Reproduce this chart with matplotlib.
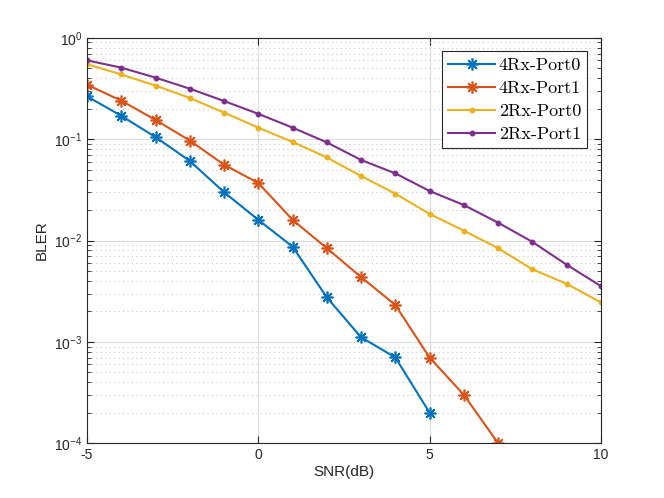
import matplotlib
matplotlib.use("Agg")
import matplotlib.pyplot as plt
from matplotlib.ticker import LogLocator, NullFormatter

snr = [-5, -4, -3, -2, -1, 0, 1, 2, 3, 4, 5, 6, 7, 8, 9, 10]

bler_4rx_p0 = [0.265, 0.170, 0.105, 0.061, 0.030, 0.0160, 0.0087, 0.00275, 0.00111, 0.000702, 0.0002]
bler_4rx_p1 = [0.345, 0.240, 0.155, 0.097, 0.056, 0.037, 0.016, 0.0084, 0.00436, 0.00231, 0.0007, 0.0003, 0.0001]
bler_2rx_p0 = [0.55, 0.435, 0.338, 0.255, 0.183, 0.130, 0.094, 0.066, 0.0433, 0.029, 0.0183, 0.0125, 0.0084, 0.0052, 0.00374, 0.00245]
bler_2rx_p1 = [0.60, 0.508, 0.405, 0.315, 0.238, 0.178, 0.130, 0.093, 0.0624, 0.046, 0.0308, 0.0224, 0.0150, 0.0097, 0.00577, 0.00355]

labels = ["4Rx-Port0", "4Rx-Port1", "2Rx-Port0", "2Rx-Port1"]
colors = ["#0072BD", "#D95319", "#EDB120", "#7E2F8E"]

plt.rcParams["font.family"] = ["Liberation Sans", "DejaVu Sans"]
plt.rcParams["axes.unicode_minus"] = False
plt.rcParams["mathtext.fontset"] = "custom"
plt.rcParams["mathtext.rm"] = "Liberation Sans"
plt.rcParams["mathtext.it"] = "Liberation Sans"

asterisk = (8, 2, 0)

fig = plt.figure(figsize=(6.64, 4.98), dpi=100)
ax = fig.add_axes([0.131, 0.110, 0.774, 0.814])

ax.semilogy(snr[:len(bler_4rx_p0)], bler_4rx_p0, color=colors[0], lw=1.5, marker=asterisk,
            ms=8.5, mew=1.2, label=labels[0])
ax.semilogy(snr[:len(bler_4rx_p1)], bler_4rx_p1, color=colors[1], lw=1.5, marker=asterisk,
            ms=8.5, mew=1.2, label=labels[1])
ax.semilogy(snr, bler_2rx_p0, color=colors[2], lw=1.5, marker=".", ms=6.5, label=labels[2])
ax.semilogy(snr, bler_2rx_p1, color=colors[3], lw=1.5, marker=".", ms=6.5, label=labels[3])

ax.set_xlim(-5, 10)
ax.set_ylim(1e-4, 1)
ax.set_xticks([-5, 0, 5, 10])
ax.yaxis.set_major_locator(LogLocator(base=10, numticks=10))
ax.yaxis.set_minor_locator(LogLocator(base=10, subs=range(2, 10), numticks=20))
ax.yaxis.set_minor_formatter(NullFormatter())

ax.grid(True, which="major", color="#dcdcdc", lw=0.8, ls="-")
ax.grid(True, which="minor", axis="y", color="#c8c8c8", lw=0.8, ls=(0, (1, 3)))
ax.set_axisbelow(True)

ax.tick_params(which="both", direction="in", top=True, right=True, colors="#262626", labelsize=10)
ax.tick_params(which="major", length=5)
ax.tick_params(which="minor", length=3)
for s in ax.spines.values():
    s.set_color("#262626")
    s.set_linewidth(0.8)

ax.set_xlabel("SNR(dB)", fontsize=11, color="#262626", labelpad=2)
ax.set_ylabel("BLER", fontsize=11, color="#262626", labelpad=4)

leg = ax.legend(loc="upper right", fancybox=False, edgecolor="#262626", framealpha=1,
                prop={"family": "cmr10", "size": 13}, handlelength=2.6,
                borderpad=0.35, labelspacing=0.4, handletextpad=0.2, borderaxespad=0.75)
leg.get_frame().set_linewidth(0.8)

fig.savefig("out.png", dpi=100)
